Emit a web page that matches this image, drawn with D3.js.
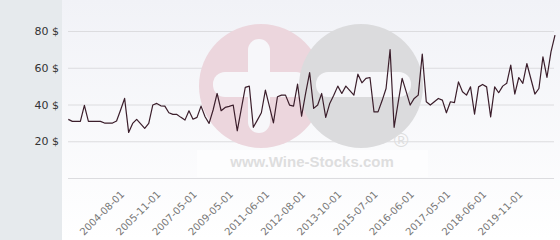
<!DOCTYPE html>
<html>
<head>
<meta charset="utf-8">
<script src="https://cdn.jsdelivr.net/npm/d3@7"></script>
<style>
  body { margin: 0; background: #fff; }
  svg { display: block; }
</style>
</head>
<body>
<script>
// Price series (one value per sale date)
const prices = [
  31.9, 30.8, 30.8, 30.8, 39.5, 30.8, 30.8, 30.8, 30.8, 29.9,
  29.9, 29.9, 31.0, 37.0, 43.3, 24.8, 29.7, 31.9, 29.5, 27.0,
  29.7, 39.7, 40.6, 39.3, 39.1, 35.5, 34.6, 34.6, 33.0, 31.5,
  36.6, 32.0, 33.0, 39.1, 33.3, 29.7, 37.0, 46.0, 36.6, 38.4,
  39.0, 39.7, 25.7, 37.5, 49.3, 50.0, 27.6, 31.5, 35.5, 47.8,
  39.0, 30.0, 44.2, 45.1, 45.1, 39.7, 39.1, 51.1, 33.7, 46.0,
  57.4, 37.9, 39.7, 46.0, 33.0, 40.6, 45.0, 50.0, 46.0, 50.0,
  47.5, 45.1, 56.5, 51.8, 54.2, 54.7, 36.0, 36.0, 42.0, 48.7,
  69.9, 27.6, 41.0, 54.2, 47.0, 39.7, 43.3, 45.1, 67.4, 41.5,
  39.7, 41.5, 43.3, 42.4, 35.5, 41.5, 41.0, 52.3, 46.9, 45.1,
  49.6, 34.8, 49.6, 50.9, 49.6, 33.3, 49.6, 46.4, 50.0, 51.5,
  61.4, 45.7, 54.7, 51.5, 62.3, 54.0, 45.7, 48.7, 65.9, 54.7,
  68.6, 77.7
];

// Category axis: every 9th point is labelled
const tickIndex = [14, 23, 32, 41, 50, 59, 68, 77, 86, 95, 104, 113];
const tickLabels = [
  "2004-08-01", "2005-11-01", "2007-05-01", "2009-05-01",
  "2011-06-01", "2012-08-01", "2013-10-01", "2015-07-01",
  "2016-06-01", "2017-05-01", "2018-06-01", "2019-11-01"
];
const yTicks = [20, 40, 60, 80];

const width = 560;
const height = 240;
const panelWidth = 62;

const svg = d3.select("body").append("svg")
  .attr("width", width)
  .attr("height", height);

const defs = svg.append("defs");
const grad = defs.append("linearGradient")
  .attr("id", "plotBg")
  .attr("x1", 0).attr("y1", 0).attr("x2", 0).attr("y2", 1);
grad.append("stop").attr("offset", "0%").attr("stop-color", "#f1f2f7");
grad.append("stop").attr("offset", "100%").attr("stop-color", "#ffffff");

// backgrounds
svg.append("rect")
  .attr("x", 0).attr("y", 0)
  .attr("width", panelWidth).attr("height", height)
  .attr("fill", "#e6eaed");
svg.append("rect")
  .attr("x", panelWidth).attr("y", 0)
  .attr("width", width - panelWidth).attr("height", height)
  .attr("fill", "url(#plotBg)");

// scales
const x = d3.scaleLinear()
  .domain([0, prices.length - 1])
  .range([68.3, 555]);
const y = d3.scaleLinear()
  .domain([0, 80])
  .range([178, 31]);

// gridlines
svg.append("g")
  .attr("transform", "translate(68,0)")
  .call(d3.axisLeft(y).tickValues([0].concat(yTicks)).tickSize(-(554 - 68)).tickFormat(""))
  .call(g => g.select(".domain").remove())
  .call(g => g.selectAll("line").attr("stroke", "#dcdcdf"));

// watermark
const wm = svg.append("g");
wm.append("circle").attr("cx", 261).attr("cy", 86).attr("r", 62).attr("fill", "#ecd6dd");
wm.append("rect").attr("x", 248).attr("y", 39).attr("width", 22).attr("height", 94)
  .attr("rx", 11).attr("fill", "#f7f7fa");
wm.append("rect").attr("x", 213).attr("y", 72).attr("width", 95).attr("height", 25)
  .attr("rx", 12).attr("fill", "#f7f7fa");
wm.append("circle").attr("cx", 361).attr("cy", 86).attr("r", 62).attr("fill", "#dbdbdd");
wm.append("rect").attr("x", 316).attr("y", 72).attr("width", 95).attr("height", 25)
  .attr("rx", 12).attr("fill", "#f7f7fa");
wm.append("rect").attr("x", 197).attr("y", 150).attr("width", 231).attr("height", 27)
  .attr("fill", "#ffffff").attr("opacity", 0.5);
wm.append("text")
  .attr("x", 312).attr("y", 167)
  .attr("text-anchor", "middle")
  .attr("font-family", "Liberation Sans, Arial, sans-serif")
  .attr("font-weight", "bold")
  .attr("font-size", 15)
  .attr("fill", "#dedede")
  .text("www.Wine-Stocks.com");
wm.append("text")
  .attr("x", 401).attr("y", 147)
  .attr("text-anchor", "middle")
  .attr("font-family", "Liberation Sans, Arial, sans-serif")
  .attr("font-size", 20)
  .attr("fill", "#dedede")
  .text("®");

// y labels
svg.append("g")
  .attr("transform", "translate(59,0)")
  .call(d3.axisLeft(y).tickValues(yTicks).tickSize(0).tickPadding(0).tickFormat(d => d + " $"))
  .call(g => g.select(".domain").remove())
  .call(g => g.selectAll("text")
    .attr("font-family", "DejaVu Sans, sans-serif")
    .attr("font-size", 11)
    .attr("fill", "#333"));

// x labels
svg.append("g")
  .attr("transform", "translate(0,195)")
  .call(d3.axisBottom(x).tickValues(tickIndex).tickSize(0).tickPadding(0)
    .tickFormat((d, i) => tickLabels[i]))
  .call(g => g.select(".domain").remove())
  .call(g => g.selectAll("text")
    .attr("font-family", "DejaVu Sans, sans-serif")
    .attr("font-size", 10)
    .attr("fill", "#777")
    .attr("text-anchor", "end")
    .attr("dy", 0)
    .attr("y", 0)
    .attr("transform", "rotate(-45)"));

// price line
const line = d3.line()
  .x((d, i) => x(i))
  .y(d => y(d));

svg.append("path")
  .datum(prices)
  .attr("fill", "none")
  .attr("stroke", "#3b1e2b")
  .attr("stroke-width", 1.2)
  .attr("stroke-linejoin", "round")
  .attr("d", line);
</script>
</body>
</html>
